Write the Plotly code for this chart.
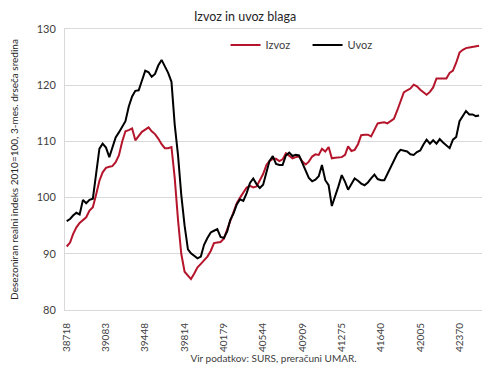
import datetime as dt
import plotly.graph_objects as go

# Monthly data Jan 2006 .. Jul 2016 (Excel date serials on the x axis)
years = list(range(2006, 2017))
izvoz = [
    91.3, 92.0, 93.5, 94.7, 95.5, 96.0, 96.5, 97.7, 98.3, 100.5, 103.0, 104.5,
    105.3, 105.5, 105.6, 106.3, 107.5, 110.0, 111.8, 112.0, 112.3, 110.2, 110.9, 111.7,
    112.1, 112.5, 111.8, 111.3, 110.5, 109.5, 108.8, 108.8, 109.0, 103.5, 96.0, 90.0,
    86.8, 86.0, 85.5, 86.5, 87.6, 88.2, 88.9, 89.5, 90.5, 91.9, 92.0, 92.1,
    92.7, 94.3, 95.8, 97.5, 99.0, 100.0, 101.0, 101.8, 102.1, 101.8, 102.0, 103.0,
    104.2, 105.8, 106.5, 106.9, 106.9, 106.5, 106.8, 107.9, 107.4, 107.0, 107.2, 107.3,
    106.4, 105.9, 106.4, 107.3, 107.7, 107.6, 108.7, 108.2, 109.0, 107.0, 107.1, 107.1,
    107.2, 107.6, 109.1, 108.3, 108.5, 109.5, 111.1, 111.2, 111.2, 110.9, 112.2, 113.2,
    113.3, 113.4, 113.2, 113.6, 114.0, 115.5, 117.0, 118.7, 119.1, 119.4, 120.1, 119.8,
    119.2, 118.7, 118.3, 118.8, 119.6, 121.2, 121.2, 121.1, 121.2, 122.2, 122.6, 124.0,
    125.8, 126.3, 126.6, 126.7, 126.8, 126.9, 127.0,
]
uvoz = [
    95.8, 96.2, 96.8, 97.3, 97.0, 99.6, 99.0, 99.6, 99.8, 104.0, 108.7, 109.6,
    108.9, 107.2, 109.0, 110.7, 111.6, 112.6, 113.6, 116.2, 118.0, 119.0, 119.1, 120.8,
    122.6, 122.3, 121.5, 122.0, 123.5, 124.5, 123.5, 122.2, 120.6, 113.0, 107.5, 100.5,
    95.0, 90.8, 90.1, 89.7, 89.2, 89.5, 91.6, 92.8, 93.8, 94.1, 94.4, 93.0,
    92.8, 94.0, 96.0, 97.2, 98.8, 99.7, 99.4, 100.8, 102.6, 103.4, 102.4, 101.7,
    102.3, 104.5, 106.5, 107.4, 106.0, 105.8, 105.8, 107.5, 108.0, 107.4, 107.6, 107.5,
    106.1, 104.8, 103.5, 102.9, 103.2, 103.8, 105.8, 103.1, 102.2, 98.5, 100.2, 102.0,
    104.0, 102.8, 101.4, 102.3, 103.4, 103.0, 102.5, 102.2, 102.7, 103.4, 104.1, 103.3,
    103.1, 103.1, 104.2, 105.4, 106.6, 107.8, 108.5, 108.3, 108.2, 107.7, 107.6, 108.1,
    108.4, 109.5, 110.3, 109.6, 110.2, 109.6, 110.4, 109.8, 109.3, 108.8, 110.3, 110.8,
    113.6, 114.5, 115.4, 114.8, 114.8, 114.5, 114.6,
]

base = dt.date(1899, 12, 30)
def serial(y, m):
    return (dt.date(y, m, 1) - base).days

x = [serial(2006 + k // 12, k % 12 + 1) for k in range(len(izvoz))]
tickvals = [serial(y, 1) for y in years]
ticktext = [str(v) for v in tickvals]

# the page body keeps the browser's default 8px margin, so the figure is 8px smaller
W, H, OFF = 490 - 8, 369 - 8, 8

font = "Lato, 'Open Sans', sans-serif"
fig = go.Figure()
fig.add_trace(go.Scatter(x=x, y=izvoz, mode="lines", name="Izvoz",
                         line=dict(color="#b5152b", width=2)))
fig.add_trace(go.Scatter(x=x, y=uvoz, mode="lines", name="Uvoz",
                         line=dict(color="#000000", width=2)))

fig.update_layout(
    width=W, height=H,
    margin=dict(l=65 - OFF, r=8, t=29 - OFF, b=59, autoexpand=False),
    paper_bgcolor="white", plot_bgcolor="white",
    font=dict(family=font, color="#404040", size=11),
    title=dict(text="Izvoz in uvoz blaga", x=(245 - OFF) / W, xanchor="center",
               y=1 - (17 - OFF) / H, yanchor="middle", font=dict(size=12.5, color="#262626")),
    showlegend=True,
    legend=dict(orientation="h", x=0.385, xanchor="left", y=0.995, yanchor="top",
                bgcolor="rgba(0,0,0,0)", font=dict(size=11, color="#404040"),
                entrywidth=37, entrywidthmode="pixels", itemwidth=30),
    xaxis=dict(range=[38702, 42579], tickmode="array", tickvals=tickvals,
               ticktext=ticktext, tickangle=-90, tickfont=dict(size=10, color="#404040"),
               showgrid=False, zeroline=False, showline=True, linecolor="#d9d9d9",
               linewidth=1, mirror=True, ticks="outside", ticklen=8, tickcolor="rgba(0,0,0,0)",
               automargin=False,
               title=dict(text="Vir podatkov: SURS, preračuni UMAR.",
                          font=dict(size=10, color="#404040"), standoff=2)),
    yaxis=dict(range=[80, 130], tickvals=[80, 90, 100, 110, 120, 130],
               tickfont=dict(size=11, color="#404040"),
               showgrid=True, gridcolor="#d9d9d9", gridwidth=1, zeroline=False,
               showline=True, linecolor="#d9d9d9", mirror=True, ticks="outside",
               ticklen=6, tickcolor="rgba(0,0,0,0)", automargin=False,
               title=dict(text="Desezoniran realni indeks 2010=100, 3-mes. drseča sredina",
                          font=dict(size=10, color="#262626"), standoff=16)),
)

fig.write_html("out.html")
